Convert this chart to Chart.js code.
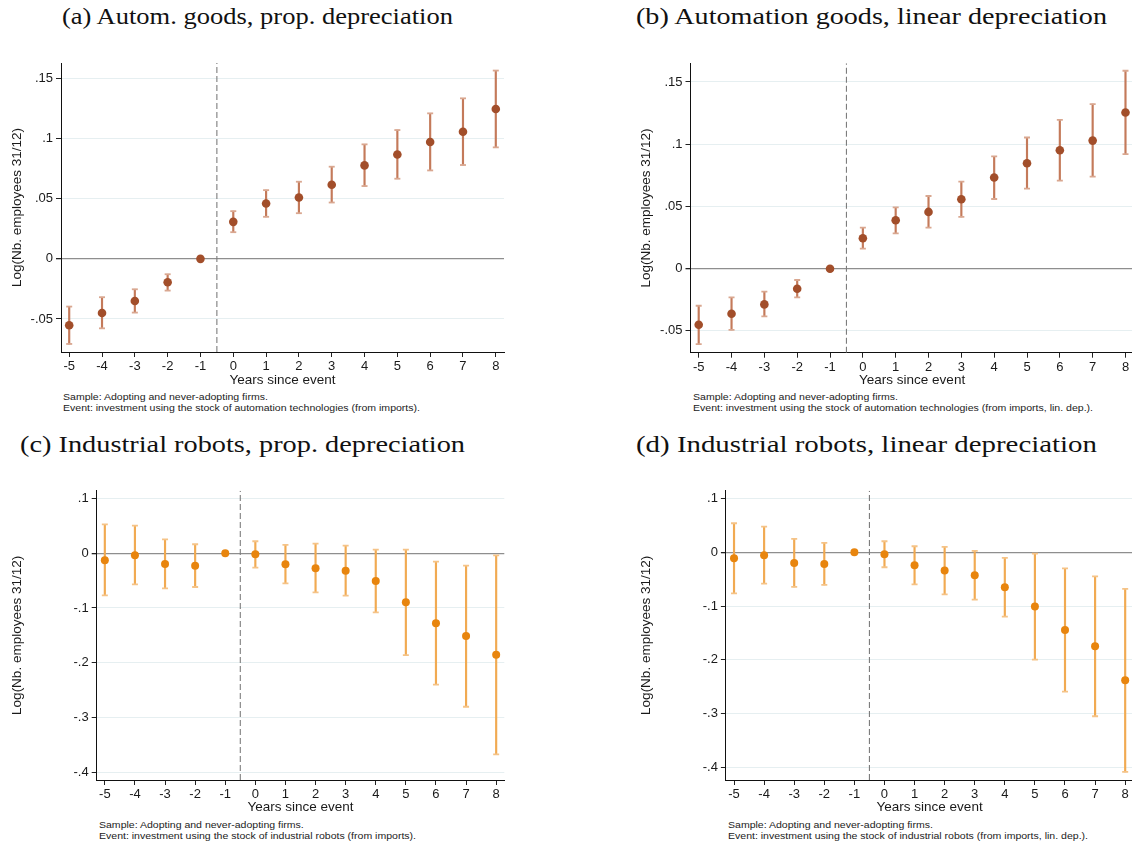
<!DOCTYPE html>
<html><head><meta charset="utf-8">
<script src="https://cdn.jsdelivr.net/npm/chart.js@4.4.1/dist/chart.umd.min.js"></script>
<style>
html,body{margin:0;padding:0;width:1132px;height:848px;overflow:hidden;background:#fff;position:relative;}
canvas{position:absolute;}
.t{position:absolute;font-family:"Liberation Serif","Times New Roman",serif;font-size:23px;line-height:28px;color:#111;white-space:nowrap;transform-origin:0 50%;}
.n{position:absolute;font-family:"Liberation Sans",Arial,sans-serif;font-size:9.5px;line-height:11px;color:#222;white-space:nowrap;transform-origin:0 50%;}
</style></head><body>
<div class="t" data-w="391" style="left:62px;top:3px">(a) Autom. goods, prop. depreciation</div>
<div class="t" data-w="471" style="left:636px;top:3px">(b) Automation goods, linear depreciation</div>
<div class="t" data-w="445" style="left:20px;top:431px">(c) Industrial robots, prop. depreciation</div>
<div class="t" data-w="461" style="left:636px;top:431px">(d) Industrial robots, linear depreciation</div>
<div class="n" data-w="357" style="left:63px;top:391px">Sample: Adopting and never-adopting firms.<br>Event: investment using the stock of automation technologies (from imports).</div>
<div class="n" data-w="400" style="left:692.6px;top:391px">Sample: Adopting and never-adopting firms.<br>Event: investment using the stock of automation technologies (from imports, lin. dep.).</div>
<div class="n" data-w="317" style="left:99px;top:818.5px">Sample: Adopting and never-adopting firms.<br>Event: investment using the stock of industrial robots (from imports).</div>
<div class="n" data-w="360" style="left:728.4px;top:818.5px">Sample: Adopting and never-adopting firms.<br>Event: investment using the stock of industrial robots (from imports, lin. dep.).</div>
<script>
// ---- data ----
const years = [-5, -4, -3, -2, -1, 0, 1, 2, 3, 4, 5, 6, 7, 8];
const xTickLabels = ["-5", "-4", "-3", "-2", "-1", "0", "1", "2", "3", "4", "5", "6", "7", "8"];

const yTicksTop = [-0.05, 0, 0.05, 0.1, 0.15];
const yLabelsTop = ["-.05", "0", ".05", ".1", ".15"];
const yTicksBottom = [-0.4, -0.3, -0.2, -0.1, 0, 0.1];
const yLabelsBottom = ["-.4", "-.3", "-.2", "-.1", "0", ".1"];

const estA = [-0.0553, -0.0450, -0.0350, -0.0194, 0, 0.0308, 0.0461, 0.0511, 0.0617, 0.0778, 0.0869, 0.0972, 0.1058, 0.1247];
const loA  = [-0.0708, -0.0578, -0.0447, -0.0264, null, 0.0222, 0.0350, 0.0380, 0.0469, 0.0606, 0.0667, 0.0736, 0.0781, 0.0928];
const hiA  = [-0.0397, -0.0319, -0.0253, -0.0128, null, 0.0397, 0.0572, 0.0642, 0.0767, 0.0953, 0.1072, 0.1211, 0.1336, 0.1567];

const estB = [-0.0450, -0.0362, -0.0287, -0.0161, 0, 0.0244, 0.0389, 0.0456, 0.0558, 0.0732, 0.0847, 0.0952, 0.1029, 0.1255];
const loB  = [-0.0606, -0.0491, -0.0383, -0.0231, null, 0.0161, 0.0284, 0.0330, 0.0416, 0.0560, 0.0643, 0.0708, 0.0740, 0.0920];
const hiB  = [-0.0298, -0.0231, -0.0185, -0.0091, null, 0.0330, 0.0493, 0.0584, 0.0700, 0.0903, 0.1054, 0.1196, 0.1322, 0.1590];

const estC = [-0.0128, -0.0037, -0.0195, -0.0226, 0, -0.0018, -0.0201, -0.0274, -0.0317, -0.0506, -0.0896, -0.1280, -0.1512, -0.1854];
const loC  = [-0.0768, -0.0567, -0.0640, -0.0616, null, -0.0262, -0.0549, -0.0713, -0.0774, -0.1079, -0.1860, -0.2402, -0.2805, -0.3677];
const hiC  = [0.0530, 0.0506, 0.0256, 0.0165, null, 0.0220, 0.0152, 0.0177, 0.0140, 0.0067, 0.0067, -0.0152, -0.0226, -0.0037];

const estD = [-0.0112, -0.0056, -0.0199, -0.0217, 0, -0.0037, -0.0242, -0.0341, -0.0428, -0.0651, -0.1011, -0.1445, -0.1749, -0.2382];
const loD  = [-0.0763, -0.0583, -0.0645, -0.0608, null, -0.0279, -0.0596, -0.0782, -0.0881, -0.1197, -0.1998, -0.2593, -0.3052, -0.4088];
const hiD  = [0.0540, 0.0478, 0.0248, 0.0174, null, 0.0205, 0.0112, 0.0099, 0.0025, -0.0105, -0.0025, -0.0298, -0.0447, -0.0682];

const eventLine = -0.5;
const xTitle = "Years since event";
const yTitle = "Log(Nb. employees 31/12)";

// ---- styles ----
const brown = {point: "#A24E2A", bar: "#C47A5A", cap: "#D9A790"};
const orange = {point: "#E8850E", bar: "#F1AA52", cap: "#F5C387"};
const FONT = "'Liberation Sans', Arial, sans-serif";

const panels = [
  {est: estA, lo: loA, hi: hiA, yt: yTicksTop, yl: yLabelsTop, yMin: -0.0775, yMax: 0.163, xMin: -5.25, xMax: 8.25, col: brown, r: 4.3,
   box: {x: 0, y: 40, w: 566, h: 352, pl: 6, pt: 23, pr: 62, pb: 2, yW: 55, xH: 38}},
  {est: estB, lo: loB, hi: hiB, yt: yTicksTop, yl: yLabelsTop, yMin: -0.0675, yMax: 0.165, xMin: -5.25, xMax: 8.25, col: brown, r: 4.3,
   box: {x: 600, y: 40, w: 570, h: 352, pl: 35, pt: 23.3, pr: 36.3, pb: 1.3, yW: 55.5, xH: 38}},
  {est: estC, lo: loC, hi: hiC, yt: yTicksBottom, yl: yLabelsBottom, yMin: -0.4144, yMax: 0.1144, xMin: -5.27, xMax: 8.27, col: orange, r: 4,
   box: {x: 0, y: 470, w: 566, h: 350, pl: 6.5, pt: 20.7, pr: 61.7, pb: 2.3, yW: 90.2, xH: 37.7}},
  {est: estD, lo: loD, hi: hiD, yt: yTicksBottom, yl: yLabelsBottom, yMin: -0.4238, yMax: 0.1146, xMin: -5.27, xMax: 8.27, col: orange, r: 4,
   box: {x: 600, y: 470, w: 570, h: 350, pl: 35, pt: 20.7, pr: 36.7, pb: 2.3, yW: 90.9, xH: 37.7}}
];

function makeChart(p) {
  const cv = document.createElement('canvas');
  cv.width = p.box.w; cv.height = p.box.h;
  cv.style.left = p.box.x + 'px'; cv.style.top = p.box.y + 'px';
  cv.style.width = p.box.w + 'px'; cv.style.height = p.box.h + 'px';
  document.body.appendChild(cv);
  const pts = years.map((x, i) => ({x: x, y: p.est[i]}));
  const bars = [], caps = [];
  years.forEach((x, i) => {
    if (p.lo[i] !== null) {
      bars.push({x: x, y: [p.lo[i], p.hi[i]]});
      caps.push({x: x, y: p.lo[i]}, {x: x, y: p.hi[i]});
    }
  });
  new Chart(cv, {
    type: 'scatter',
    data: {datasets: [
      {type: 'scatter', data: pts, pointRadius: p.r, pointHoverRadius: p.r, backgroundColor: p.col.point, borderWidth: 0},
      {type: 'scatter', data: caps, pointStyle: 'line', pointRadius: 3, pointHoverRadius: 3, borderColor: p.col.cap, backgroundColor: p.col.cap, borderWidth: 1.8},
      {type: 'bar', data: bars, barThickness: 1.5, backgroundColor: p.col.bar, borderWidth: 0},
      {type: 'line', data: [{x: eventLine, y: p.yMin}, {x: eventLine, y: p.yMax}], borderColor: '#7d7d7d', borderWidth: 1.1, borderDash: [6, 3], pointRadius: 0, fill: false}
    ]},
    options: {
      responsive: false, animation: false, events: [], devicePixelRatio: 1,
      layout: {padding: {left: p.box.pl, top: p.box.pt, right: p.box.pr, bottom: p.box.pb}},
      plugins: {legend: {display: false}, tooltip: {enabled: false}, title: {display: false}},
      scales: {
        x: {
          type: 'linear', min: p.xMin, max: p.xMax, offset: false,
          afterBuildTicks: s => { s.ticks = years.map(v => ({value: v})); },
          afterFit: s => { s.height = p.box.xH; },
          grid: {display: true, drawOnChartArea: false, drawTicks: true, tickLength: 5, tickColor: '#222', offset: false},
          border: {display: true, color: '#111', width: 1},
          ticks: {callback: (v, i) => xTickLabels[i], font: {family: FONT, size: 13}, color: '#1a1a1a', padding: 2, maxRotation: 0, autoSkip: false},
          title: {display: true, text: xTitle, font: {family: FONT, size: 13.5}, color: '#1a1a1a', padding: {top: 0, bottom: 2}}
        },
        y: {
          type: 'linear', min: p.yMin, max: p.yMax,
          afterBuildTicks: s => { s.ticks = p.yt.map(v => ({value: v})); },
          afterFit: s => { s.width = p.box.yW; },
          grid: {
            color: c => (c.tick && Math.abs(c.tick.value) < 1e-9) ? '#8e8e8e' : '#e6eff1',
            lineWidth: c => (c.tick && Math.abs(c.tick.value) < 1e-9) ? 1.3 : 1,
            tickLength: 5, tickColor: '#222', drawTicks: true
          },
          border: {display: true, color: '#111', width: 1},
          ticks: {callback: (v, i) => p.yl[i], font: {family: FONT, size: 13}, color: '#1a1a1a', padding: 3, autoSkip: false},
          title: {display: true, text: yTitle, font: {family: FONT, size: 13.5}, color: '#1a1a1a', padding: {top: 2.9, bottom: 0}}
        }
      }
    }
  });
}
panels.forEach(makeChart);

function fit() {
  document.querySelectorAll('[data-w]').forEach(el => {
    el.style.transform = 'none';
    const w = el.getBoundingClientRect().width;
    const target = parseFloat(el.getAttribute('data-w'));
    if (w > 0) el.style.transform = 'scaleX(' + (target / w) + ')';
  });
}
fit();
if (document.fonts && document.fonts.ready) document.fonts.ready.then(fit);
</script>
</body></html>
